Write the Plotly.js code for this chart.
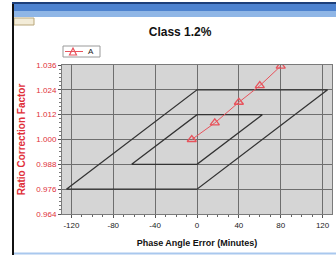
<!DOCTYPE html>
<html>
<head>
<meta charset="utf-8">
<script src="https://cdn.plot.ly/plotly-3.0.1.min.js"></script>
<style>html,body{margin:0;padding:0;background:#fff;}#chart{width:336px;height:255px;}</style>
</head>
<body>
<div id="chart"></div>
<script>
// Measured series "A"
var seriesName = "A";
var phaseA = [-5, 17, 40, 60, 80];
var rcfA = [1.000, 1.008, 1.018, 1.026, 1.0355];

// Accuracy class limit parallelograms (Class 1.2%)
var outerX = [-124.8, 0, 124.8, 0, -124.8];
var outerY = [0.976, 0.976, 1.024, 1.024, 0.976];
var innerX = [-62.4, 0, 62.4, 0, -62.4];
var innerY = [0.988, 0.988, 1.012, 1.012, 0.988];

var xTicks = [-120, -80, -40, 0, 40, 80, 120];
var yTicks = [0.964, 0.976, 0.988, 1.000, 1.012, 1.024, 1.036];
var yTickText = ["0.964", "0.976", "0.988", "1.000", "1.012", "1.024", "1.036"];

// pixel -> paper helpers (plot area: x 62..332, y 65..214)
function px(x) { return (x - 62) / 270; }
function py(y) { return (214 - y) / 149; }

var seriesColor = '#e8535c';
var limitLine = {color: '#333333', width: 1.3};
var traces = [
  {x: outerX, y: outerY, mode: 'lines', line: limitLine, showlegend: false, hoverinfo: 'skip'},
  {x: innerX, y: innerY, mode: 'lines', line: limitLine, showlegend: false, hoverinfo: 'skip'},
  {x: phaseA, y: rcfA, name: seriesName, mode: 'lines+markers', showlegend: false,
   line: {color: seriesColor, width: 1},
   marker: {symbol: 'triangle-up-open', size: 8, color: seriesColor, line: {width: 1.3, color: seriesColor}}}
];

var legendShapes = [
  {type: 'rect', xref: 'paper', yref: 'paper', x0: px(63), x1: px(100), y0: py(57), y1: py(46),
   fillcolor: '#ffffff', line: {width: 1, color: '#9a9a9a'}, layer: 'above'},
  {type: 'line', xref: 'paper', yref: 'paper', x0: px(65), x1: px(83), y0: py(51.5), y1: py(51.5),
   line: {width: 1, color: seriesColor}, layer: 'above'},
  {type: 'path', xref: 'paper', yref: 'paper',
   path: 'M ' + px(69.5) + ',' + py(55) + ' L ' + px(76.5) + ',' + py(55) + ' L ' + px(73) + ',' + py(48) + ' Z',
   line: {width: 1.2, color: seriesColor}, fillcolor: 'rgba(0,0,0,0)', layer: 'above'}
];

var frameShapes = [
  // window title bar
  {type: 'rect', xref: 'paper', yref: 'paper', x0: px(12), x1: px(336), y0: py(17), y1: py(3),
   fillcolor: '#4d82cf', line: {width: 0}, layer: 'above'},
  {type: 'rect', xref: 'paper', yref: 'paper', x0: px(12), x1: px(336), y0: py(17), y1: py(11),
   fillcolor: '#8fb6e6', line: {width: 0}, layer: 'above'},
  {type: 'rect', xref: 'paper', yref: 'paper', x0: px(12), x1: px(336), y0: py(4), y1: py(2),
   fillcolor: '#1d3f7a', line: {width: 0}, layer: 'above'},
  // small toolbar button
  {type: 'rect', xref: 'paper', yref: 'paper', x0: px(14), x1: px(34), y0: py(25), y1: py(18),
   fillcolor: '#f3ecd8', line: {width: 1, color: '#b9a77a'}, layer: 'above'},
  // left black frame border
  {type: 'line', xref: 'paper', yref: 'paper', x0: px(13), x1: px(13), y0: py(255), y1: py(4),
   line: {color: '#111', width: 2}, layer: 'above'},
  // bottom light-blue frame edge
  {type: 'line', xref: 'paper', yref: 'paper', x0: px(14), x1: px(336), y0: py(253.5), y1: py(253.5),
   line: {color: '#a9c8ee', width: 2}, layer: 'above'}
];

var layout = {
  width: 336, height: 255,
  margin: {l: 62, r: 4, t: 65, b: 41},
  paper_bgcolor: '#ffffff',
  plot_bgcolor: '#d5d5d5',
  font: {family: 'Liberation Sans, Arial, sans-serif', size: 8, color: '#222'},
  title: {text: '<b>Class 1.2%</b>', x: 0.536, xanchor: 'center', y: 0.875, yanchor: 'middle',
          font: {size: 12, color: '#111', family: 'Liberation Sans, Arial, sans-serif'}},
  showlegend: false,
  xaxis: {
    range: [-129, 129], tickvals: xTicks, ticktext: xTicks.map(String),
    showgrid: true, gridcolor: '#6e6e6e', gridwidth: 1, zeroline: false,
    showline: true, linecolor: '#7a7a7a', mirror: true,
    ticks: 'outside', ticklen: 3, tickcolor: '#555',
    minor: {dtick: 10, ticks: 'outside', ticklen: 2, tickcolor: '#666', showgrid: false},
    tickfont: {size: 8, color: '#222'},
    title: {text: '<b>Phase Angle Error (Minutes)</b>', standoff: 11, font: {size: 9, color: '#111'}}
  },
  yaxis: {
    range: [0.964, 1.036], tickvals: yTicks, ticktext: yTickText,
    showgrid: true, gridcolor: '#6e6e6e', gridwidth: 1, zeroline: false,
    showline: true, linecolor: '#7a7a7a', mirror: true,
    ticks: 'outside', ticklen: 3, tickcolor: '#555',
    minor: {dtick: 0.002, ticks: 'outside', ticklen: 2, tickcolor: '#777', showgrid: false},
    tickfont: {size: 8, color: '#e0303a'},
    title: {text: '<b>Ratio Correction Factor</b>', standoff: 8, font: {size: 10, color: '#e0303a'}}
  },
  annotations: [
    {xref: 'paper', yref: 'paper', x: px(91), y: py(51.5), text: seriesName, showarrow: false,
     xanchor: 'center', yanchor: 'middle', font: {size: 8, color: '#222'}}
  ],
  shapes: frameShapes.concat(legendShapes)
};

Plotly.newPlot('chart', traces, layout, {displayModeBar: false, staticPlot: true});
</script>
</body>
</html>
